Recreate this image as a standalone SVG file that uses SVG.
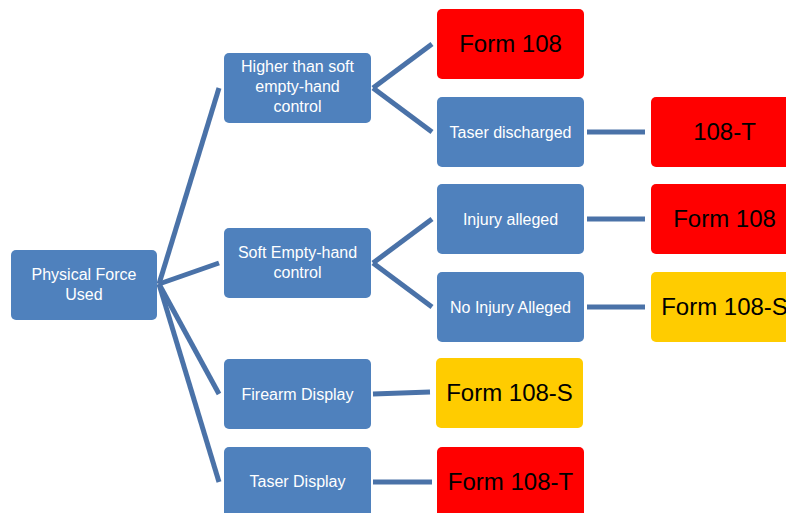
<svg xmlns="http://www.w3.org/2000/svg" width="786" height="513" viewBox="0 0 786 513">
<style>
.b{fill:#4F81BD;}
.r{fill:#FF0000;}
.y{fill:#FFCC00;}
.t{font-family:"Liberation Sans",Arial,sans-serif;font-size:16px;fill:#FFFFFF;text-anchor:middle;}
.f{font-family:"Liberation Sans",Arial,sans-serif;font-size:24px;fill:#000000;text-anchor:middle;}
.c line{stroke:#4A72A8;stroke-width:5;stroke-linecap:butt;}
</style>
<rect width="786" height="513" fill="#FFFFFF"/>
<g class="c" id="connectors">
<line x1="159" y1="284" x2="219" y2="88"/>
<line x1="159" y1="284" x2="219" y2="263"/>
<line x1="159" y1="284" x2="219" y2="394"/>
<line x1="159" y1="284" x2="219" y2="482"/>
<line x1="373" y1="88" x2="432" y2="44"/>
<line x1="373" y1="88" x2="432" y2="132"/>
<line x1="373" y1="263" x2="432" y2="219"/>
<line x1="373" y1="263" x2="432" y2="307"/>
<line x1="587" y1="132" x2="645" y2="132"/>
<line x1="587" y1="219" x2="645" y2="219"/>
<line x1="587" y1="307" x2="645" y2="307"/>
<line x1="373" y1="394" x2="430" y2="392"/>
<line x1="373" y1="482" x2="432" y2="482"/>
</g>
<g id="n-physical">
<rect class="b" x="11" y="250" width="146" height="70" rx="5"/>
<text class="t" x="84" y="280">Physical Force</text>
<text class="t" x="84" y="300">Used</text>
</g>
<g id="n-higher">
<rect class="b" x="224" y="53" width="147" height="70" rx="5"/>
<text class="t" x="297.5" y="72">Higher than soft</text>
<text class="t" x="297.5" y="92">empty-hand</text>
<text class="t" x="297.5" y="112">control</text>
</g>
<g id="n-soft">
<rect class="b" x="224" y="228" width="147" height="70" rx="5"/>
<text class="t" x="297.5" y="258">Soft Empty-hand</text>
<text class="t" x="297.5" y="278">control</text>
</g>
<g id="n-firearm">
<rect class="b" x="224" y="359" width="147" height="70" rx="5"/>
<text class="t" x="297.5" y="400">Firearm Display</text>
</g>
<g id="n-taserdisplay">
<rect class="b" x="224" y="447" width="147" height="70" rx="5"/>
<text class="t" x="297.5" y="487">Taser Display</text>
</g>
<g id="n-form108a">
<rect class="r" x="437" y="9" width="147" height="70" rx="5"/>
<text class="f" x="510.5" y="52">Form 108</text>
</g>
<g id="n-taserdis">
<rect class="b" x="437" y="97" width="147" height="70" rx="5"/>
<text class="t" x="510.5" y="137.5">Taser discharged</text>
</g>
<g id="n-108t">
<rect class="r" x="651" y="97" width="147" height="70" rx="5"/>
<text class="f" x="724.5" y="140">108-T</text>
</g>
<g id="n-injury">
<rect class="b" x="437" y="184" width="147" height="70" rx="5"/>
<text class="t" x="510.5" y="224.5">Injury alleged</text>
</g>
<g id="n-form108b">
<rect class="r" x="651" y="184" width="147" height="70" rx="5"/>
<text class="f" x="724.5" y="227">Form 108</text>
</g>
<g id="n-noinjury">
<rect class="b" x="437" y="272" width="147" height="70" rx="5"/>
<text class="t" x="510.5" y="312.5">No Injury Alleged</text>
</g>
<g id="n-form108s-a">
<rect class="y" x="651" y="272" width="147" height="70" rx="5"/>
<text class="f" x="724.5" y="315">Form 108-S</text>
</g>
<g id="n-form108s-b">
<rect class="y" x="436" y="358" width="147" height="70" rx="5"/>
<text class="f" x="509.5" y="401">Form 108-S</text>
</g>
<g id="n-form108t">
<rect class="r" x="437" y="447" width="147" height="70" rx="5"/>
<text class="f" x="510.5" y="490">Form 108-T</text>
</g>
</svg>
